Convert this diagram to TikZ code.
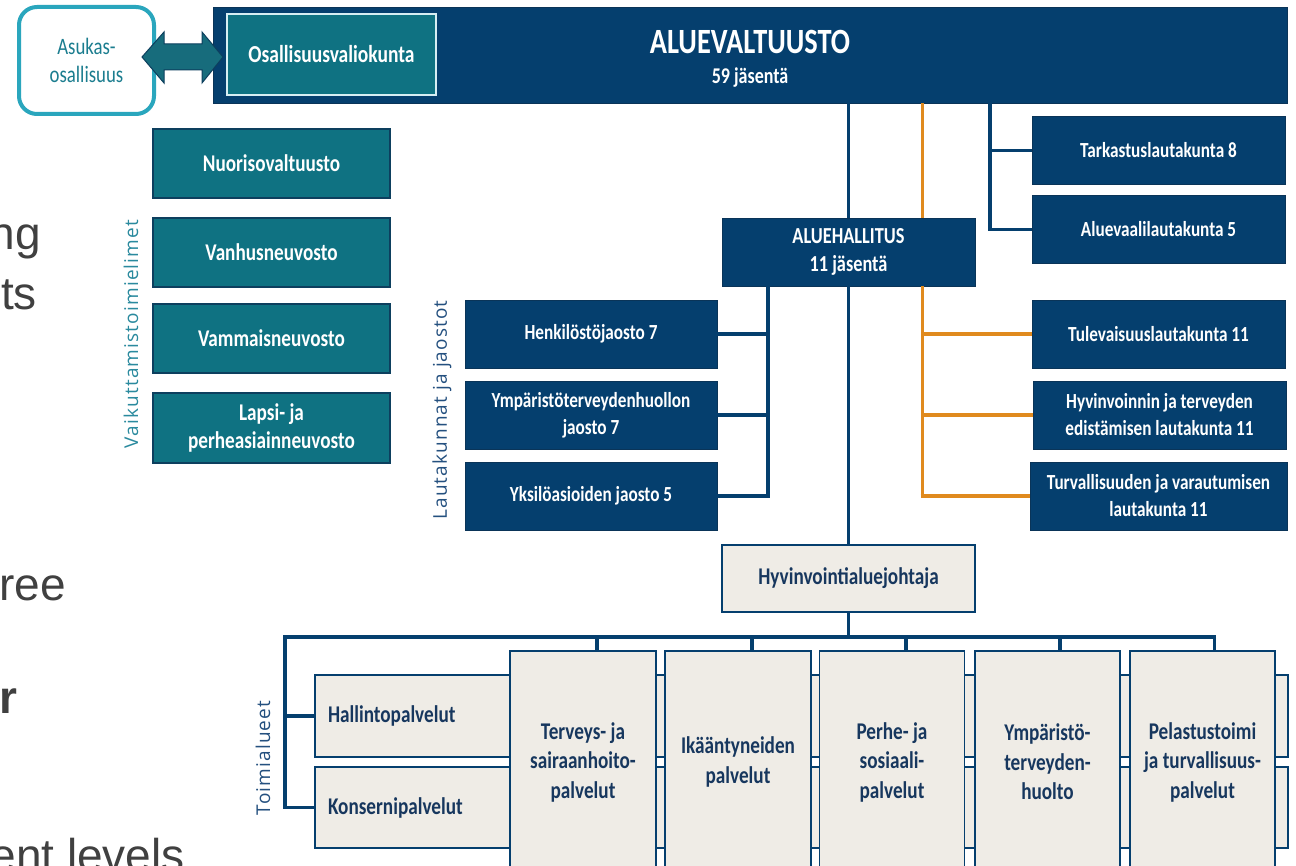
\documentclass[tikz,border=0pt]{standalone}
\usepackage{fontspec}
\setmainfont{Carlito}
\newfontfamily\bxf[FakeStretch=0.8]{Carlito}
\newfontfamily\sldf{Liberation Sans}
\newfontfamily\lblf[LetterSpace=6]{Open Sans}
\definecolor{navy}{HTML}{053F6E}
\definecolor{navydk}{HTML}{0A3458}
\definecolor{navytx}{HTML}{17375E}
\definecolor{teal1}{HTML}{0F7282}
\definecolor{tealdk}{HTML}{0D3F5E}
\definecolor{teallt}{HTML}{2AA6BD}
\definecolor{tealtx}{HTML}{1B7D8F}
\definecolor{tealarrow}{HTML}{176C7C}
\definecolor{orange1}{HTML}{E08A1E}
\definecolor{beige}{HTML}{EFECE6}
\definecolor{slidegrey}{HTML}{404040}
\definecolor{labnavy}{HTML}{24507F}
\definecolor{labteal}{HTML}{2A8A9E}
\begin{document}
\begin{tikzpicture}[x=1pt,y=-1pt,
  navybox/.style={rectangle, fill=navy, draw=navydk, line width=0.8pt, text=white, align=center,
    font=\bxf\bfseries\fontsize{21.5}{27}\selectfont, minimum width=253pt, minimum height=68pt, inner sep=1pt},
  tealbox/.style={rectangle, fill=teal1, draw=tealdk, line width=1.2pt, text=white, align=center,
    font=\bxf\bfseries\fontsize{24}{28.5}\selectfont, minimum width=237pt, minimum height=69pt, inner sep=1pt},
  beigebox/.style={rectangle, fill=beige, draw=navy, line width=1.2pt, text=navytx, align=center,
    font=\bxf\bfseries\fontsize{24}{29.5}\selectfont, inner sep=1pt},
  navyline/.style={draw=navy, line width=3.5pt},
  orline/.style={draw=orange1, line width=3pt},
  orbranch/.style={draw=orange1, line width=4pt},
  sidelabel/.style={rotate=90, inner sep=0pt, font=\lblf\fontsize{19}{21}\selectfont},
  slide/.style={text=slidegrey, font=\sldf\fontsize{46}{50}\selectfont, anchor=base east, inner sep=0pt}
]
\useasboundingbox (0,0) rectangle (1296,866);
\fill[white] (0,0) rectangle (1296,866);
\clip (0,0) rectangle (1296,866);

% background slide fragments
\node[slide] (s1) at (41,250) {ng};
\node[slide] (s2) at (37,310) {ts};
\node[slide] (s3) at (66,600) {ree};
\node[slide, font=\sldf\bfseries\fontsize{46}{50}\selectfont] (s4) at (18,713) {r};
\node[slide] (s5) at (185,871) {ent levels};

% top
\node[rectangle, fill=navy, draw=navydk, line width=0.8pt, minimum width=1074pt, minimum height=96pt] (valt) at (750,55) {};
\node[text=white, font=\bxf\bfseries\fontsize{35.5}{38}\selectfont, inner sep=0pt] (valtT) at (750,42) {ALUEVALTUUSTO};
\node[text=white, font=\bxf\bfseries\fontsize{22.5}{25}\selectfont, inner sep=0pt] (valtS) at (750,78) {59 jäsentä};
\node[rectangle, fill=teal1, draw={rgb,255:red,215;green,238;blue,243}, line width=2.5pt, minimum width=209pt, minimum height=81pt,
  text=white, font=\bxf\bfseries\fontsize{24.4}{28}\selectfont] (osal) at (331.5,54.5) {Osallisuusvaliokunta};
\node[rectangle, rounded corners=18pt, draw=teallt, line width=4pt, fill=white, minimum width=135pt, minimum height=107pt,
  text=tealtx, align=center, font=\bxf\fontsize{23.5}{28}\selectfont] (asuk) at (86.5,60.5) {Asukas-\\osallisuus};
\filldraw[fill=tealarrow, draw=tealdk, line width=1pt, line join=miter]
  (142,57) -- (164,32) -- (164,44) -- (202,44) -- (202,32) -- (223,57) -- (202,83) -- (202,70) -- (164,70) -- (164,83) -- cycle;

% teal column
\node[tealbox] (nuor) at (271.5,163.5) {Nuorisovaltuusto};
\node[tealbox] (vanh) at (271.5,252.5) {Vanhusneuvosto};
\node[tealbox] (vamm) at (271.5,338.5) {Vammaisneuvosto};
\node[tealbox, minimum height=70pt] (lapsi) at (271.5,428) {Lapsi- ja\\perheasiainneuvosto};
\node[sidelabel, text=labteal] (vaik) at (131,334) {Vaikuttamistoimielimet};

% aluehallitus
\node[navybox, font=\bxf\bfseries\fontsize{22.9}{28}\selectfont] (hall) at (848.5,252) {ALUEHALLITUS\\11 jäsentä};

% right boxes
\node[navybox] (tark) at (1158.5,150.5) {Tarkastuslautakunta 8};
\node[navybox] (aluev) at (1158.5,229.5) {Aluevaalilautakunta 5};
\node[navybox] (tulev) at (1158.5,334) {Tulevaisuuslautakunta 11};
\node[navybox] (hyvin) at (1159.5,415) {Hyvinvoinnin ja terveyden\\edistämisen lautakunta 11};
\node[navybox, minimum width=257pt] (turv) at (1158.5,496) {Turvallisuuden ja varautumisen\\lautakunta 11};

% left boxes
\node[navybox, minimum width=252pt] (henk) at (591,334) {Henkilöstöjaosto 7};
\node[navybox, minimum width=252pt] (ymp) at (591,415) {Ympäristöterveydenhuollon\\jaosto 7};
\node[navybox, minimum width=252pt] (yks) at (591,496) {Yksilöasioiden jaosto 5};
\node[sidelabel, text=labnavy] (laut) at (442,410) {Lautakunnat ja jaostot};

% connectors top
\coordinate (ox) at (922,0);
\coordinate (rx) at (990,0);
\coordinate (lx) at (768,0);
\draw[navyline] (valt.south -| hall.center) -- (hall.north);
\draw[navyline] (hall.south) -- (848.5,545);
\draw[orline] (valt.south -| ox) -- (hall.north -| ox);
\draw[orline] (hall.south -| ox) -- (ox |- turv.west);
\draw[orbranch] ([xshift=-1.5pt]ox |- turv.west) -- (turv.west);
\draw[orbranch] (ox |- tulev.west) -- (tulev.west);
\draw[orbranch] (ox |- hyvin.west) -- (hyvin.west);
\draw[navyline] (valt.south -| rx) |- (aluev.west);
\draw[navyline] (rx |- tark.west) -- (tark.west);
\draw[navyline] (hall.south -| lx) |- (yks.east);
\draw[navyline] (lx |- henk.east) -- (henk.east);
\draw[navyline] (lx |- ymp.east) -- (ymp.east);

% johtaja
\node[beigebox, minimum width=253pt, minimum height=67pt] (joht) at (848.5,578.5) {Hyvinvointialuejohtaja};

% bottom horizontal boxes
\node[beigebox, minimum height=82pt, text width=947pt, inner xsep=13pt, align=left] (hallinto) at (801.5,716) {Hallintopalvelut};
\node[beigebox, minimum height=81pt, text width=947pt, inner xsep=13pt, align=left] (kons) at (801.5,807.5) {Konsernipalvelut};

% tall boxes
\node[beigebox, minimum width=146pt, minimum height=222pt] (terv) at (583,762) {Terveys- ja\\sairaanhoito-\\palvelut};
\node[beigebox, minimum width=146pt, minimum height=222pt] (ika) at (738,762) {Ikääntyneiden\\palvelut};
\node[beigebox, minimum width=145pt, minimum height=222pt] (perhe) at (892,762) {Perhe- ja\\sosiaali-\\palvelut};
\node[beigebox, minimum width=145pt, minimum height=222pt] (ymp2) at (1047.5,762) {Ympäristö-\\terveyden-\\huolto};
\node[beigebox, minimum width=145pt, minimum height=222pt] (pel) at (1202.5,762) {Pelastustoimi\\ja turvallisuus-\\palvelut};

% bottom connectors
\coordinate (barL) at (285,637);
\coordinate (barR) at (1216,637);
\draw[navyline] (joht.south) -- (joht.south |- barL);
\draw[navyline, line join=miter] (barR) -- (barL) |- (kons.west);
\draw[navyline] (barL |- hallinto.west) -- (hallinto.west);
\draw[navyline] ([xshift=14pt]terv.north) -- ([xshift=14pt]terv.north |- barL);
\draw[navyline] ([xshift=14pt]ika.north) -- ([xshift=14pt]ika.north |- barL);
\draw[navyline] ([xshift=14pt]perhe.north) -- ([xshift=14pt]perhe.north |- barL);
\draw[navyline] ([xshift=12.5pt]ymp2.north) -- ([xshift=12.5pt]ymp2.north |- barL);
\draw[navyline] ([xshift=12pt]pel.north) -- ([xshift=12pt]pel.north |- barL);
\node[sidelabel, text=labnavy] (toim) at (263,758) {Toimialueet};
\end{tikzpicture}
\end{document}
